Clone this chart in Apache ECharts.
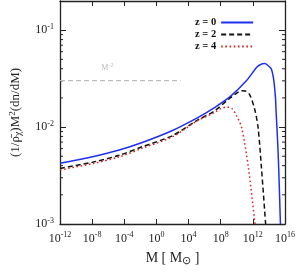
<!DOCTYPE html>
<html><head><meta charset="utf-8">
<script src="https://cdn.jsdelivr.net/npm/echarts@6/dist/echarts.min.js"></script>
<style>html,body{margin:0;padding:0;background:#fff}#c{width:299px;height:272px}</style>
</head><body><div id="c"></div>
<script>
// Values (log10 of mass in solar masses, log10 of (1/rho)M^2 dn/dM)
const seriesNames = ['z = 0', 'z = 2', 'z = 4'];
const z0LogM = [-12, -7.95, -4.63, -1.68, 2.0, 5.08, 7.13, 9.17, 11.22, 12.45, 12.85, 13.47, 13.85, 14.29, 14.54, 14.70, 14.82, 14.90, 15.03, 15.21, 15.43];
const z0LogY = [-2.374, -2.305, -2.236, -2.156, -2.035, -1.905, -1.804, -1.686, -1.52, -1.385, -1.359, -1.345, -1.362, -1.40, -1.482, -1.586, -1.704, -1.854, -2.055, -2.407, -3.0];
const z2LogM = [-12, -7.95, -4.63, -1.68, 2.0, 5.08, 7.13, 9.17, 10.0, 10.6, 11.1, 11.63, 12.24, 12.65, 13.06, 13.59];
const z2LogY = [-2.427, -2.362, -2.291, -2.20, -2.088, -1.93, -1.838, -1.70, -1.65, -1.626, -1.628, -1.67, -1.82, -2.005, -2.41, -3.0];
const z4LogM = [-12, -7.95, -4.63, -1.68, 2.0, 5.08, 7.13, 8.0, 8.76, 9.38, 9.99, 10.6, 11.43, 12.24, 12.28];
const z4LogY = [-2.442, -2.377, -2.307, -2.216, -2.10, -1.935, -1.854, -1.81, -1.794, -1.808, -1.887, -2.005, -2.41, -2.977, -3.0];
// M^-2 reference line
const refLogM = [-12, 3];
const refLogY = [-1.52, -1.52];
const refLabelLogM = -6.1;
// axis ranges / ticks
const xMinExp = -12, xMaxExp = 16, xTickStep = 4;
const yMinExp = -3, yMax = 0.2;
const yMinorTicks = [0.002,0.003,0.004,0.005,0.006,0.007,0.008,0.009,0.02,0.03,0.04,0.05,0.06,0.07,0.08,0.09];

const toPts = (lm, ly) => lm.map((m, i) => [Math.pow(10, m), Math.pow(10, ly[i])]);
const FONT = 'Liberation Serif';
const AX = '#222';

function powLabel(step) {
  return function (v) {
    const e = Math.log10(v);
    const r = Math.round(e);
    if (Math.abs(e - r) > 1e-6 || r % step !== 0) return '';
    return '{b|10}{s|' + r + '}';
  };
}
const labelRich = {
  b: { fontFamily: FONT, fontSize: 12, color: AX },
  s: { fontFamily: FONT, fontSize: 8, color: AX, padding: [0, 0, 7, 0] }
};

const chart = echarts.init(document.getElementById('c'), null, { renderer: 'canvas' });
const commonX = {
  type: 'log', logBase: 10,
  min: Math.pow(10, xMinExp), max: Math.pow(10, xMaxExp), interval: xTickStep,
  splitLine: { show: false }, minorTick: { show: false },
  axisLine: { lineStyle: { color: AX, width: 1.3 } },
  axisTick: { inside: true, length: 5, lineStyle: { color: AX, width: 1 } }
};
const commonY = {
  type: 'log', logBase: 10,
  min: Math.pow(10, yMinExp), max: yMax, interval: 1,
  splitLine: { show: false }, minorTick: { show: false },
  axisLine: { lineStyle: { color: AX, width: 1.3 } },
  axisTick: { inside: true, length: 6, lineStyle: { color: AX, width: 1 } }
};

chart.setOption({
  animation: false,
  backgroundColor: '#fff',
  grid: { left: 56, right: 14, top: 1, bottom: 43, containLabel: false },
  legend: {
    data: seriesNames,
    orient: 'vertical', left: 190, top: 12,
    align: 'right', itemWidth: 32, itemHeight: 10, itemGap: 1,
    itemStyle: { opacity: 0 },
    textStyle: { fontFamily: FONT, fontWeight: 'bold', fontSize: 10.5, color: '#111' }
  },
  xAxis: [
    Object.assign({}, commonX, {
      position: 'bottom',
      axisLabel: { formatter: powLabel(xTickStep), rich: labelRich, margin: 7, showMaxLabel: true, showMinLabel: true },
      name: 'M [ M{sub|⊙} ]', nameLocation: 'middle', nameGap: 26,
      nameTextStyle: { fontFamily: FONT, fontSize: 14, color: AX,
        rich: { sub: { fontFamily: FONT, fontSize: 11, color: AX, padding: [6, 0, 0, 0] } } }
    }),
    Object.assign({}, commonX, { position: 'top', axisLabel: { show: false } })
  ],
  yAxis: [
    Object.assign({}, commonY, {
      position: 'left',
      axisLabel: { formatter: powLabel(1), rich: labelRich, margin: 6 },
      name: '(1/ρ̄{sub|χ})M{sup|2}(dn/dM)', nameLocation: 'middle', nameGap: 36,
      nameTextStyle: { fontFamily: FONT, fontSize: 13, color: AX,
        rich: {
          sub: { fontFamily: FONT, fontSize: 10, color: AX, padding: [5, 0, 0, 0] },
          sup: { fontFamily: FONT, fontSize: 9, color: AX, padding: [0, 0, 7, 0] }
        } }
    }),
    Object.assign({}, commonY, { position: 'right', axisLabel: { show: false } })
  ],
  series: [
    {
      name: seriesNames[0], type: 'line', data: toPts(z0LogM, z0LogY),
      showSymbol: false, symbol: 'none', smooth: 0.3,
      lineStyle: { color: '#1f2ff2', width: 1.5 }, itemStyle: { color: '#1f2ff2' }, z: 5
    },
    {
      name: seriesNames[1], type: 'line', data: toPts(z2LogM, z2LogY),
      showSymbol: false, symbol: 'none', smooth: 0.3,
      lineStyle: { color: '#111', width: 1.5, type: [5, 3] }, itemStyle: { color: '#111' }, z: 6
    },
    {
      name: seriesNames[2], type: 'line', data: toPts(z4LogM, z4LogY),
      showSymbol: false, symbol: 'none', smooth: 0.3,
      lineStyle: { color: '#cc2a2a', width: 1.5, type: [1.6, 2.6] }, itemStyle: { color: '#cc2a2a' }, z: 7
    },
    {
      name: 'M^-2', type: 'line', data: toPts(refLogM, refLogY),
      showSymbol: false, symbol: 'none', silent: true,
      lineStyle: { color: '#bbbbbb', width: 1.2, type: [5, 3] }, z: 3
    },
    {
      name: 'M^-2 label', type: 'scatter', symbolSize: 0, silent: true,
      data: [[Math.pow(10, refLabelLogM), Math.pow(10, refLogY[0])]],
      label: { show: true, position: 'top', distance: 7, formatter: 'M{s|-2}',
        fontFamily: FONT, fontSize: 8, color: '#aaa',
        rich: { s: { fontFamily: FONT, fontSize: 6, color: '#aaa', padding: [0, 0, 5, 0] } } }
    },
    {
      name: 'minor ticks', type: 'custom', silent: true,
      data: yMinorTicks.map(v => [Math.pow(10, xMinExp), v]),
      encode: { x: 0, y: 1 },
      renderItem: function (params, api) {
        const cs = params.coordSys;
        const p = api.coord([api.value(0), api.value(1)]);
        const st = { stroke: AX, lineWidth: 1 };
        return { type: 'group', children: [
          { type: 'line', shape: { x1: cs.x, y1: p[1], x2: cs.x + 3, y2: p[1] }, style: st },
          { type: 'line', shape: { x1: cs.x + cs.width, y1: p[1], x2: cs.x + cs.width - 3, y2: p[1] }, style: st }
        ] };
      }
    }
  ]
});
</script>
</body></html>
